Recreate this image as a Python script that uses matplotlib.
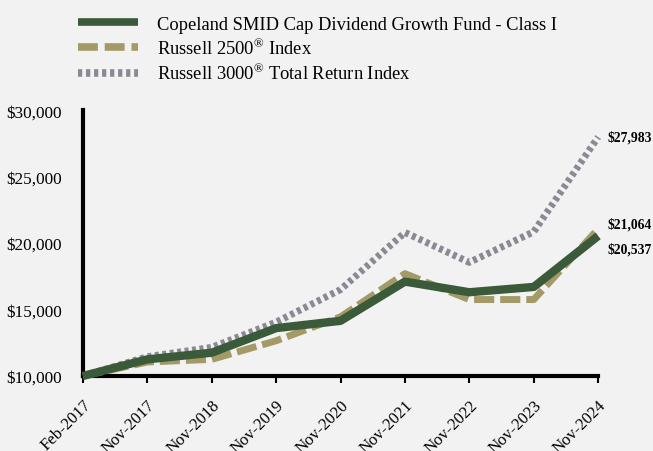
import matplotlib.pyplot as plt
from matplotlib.lines import Line2D

dates = ["Feb-2017", "Nov-2017", "Nov-2018", "Nov-2019", "Nov-2020",
         "Nov-2021", "Nov-2022", "Nov-2023", "Nov-2024"]
copeland = [10000, 11250, 11750, 13600, 14150, 17100, 16300, 16700, 20537]
r2500 = [10000, 11050, 11250, 12650, 14450, 17700, 15750, 15750, 21064]
r3000 = [10000, 11450, 12150, 14050, 16500, 20800, 18550, 20850, 27983]

names = ["Copeland SMID Cap Dividend Growth Fund - Class I",
         "Russell 2500$^{\u00ae}$ Index",
         "Russell 3000$^{\u00ae}$ Total Return Index"]

green = "#3b5a3a"
tan = "#a39a68"
grey = "#8b8a94"
bg = "#f2f2f2"

plt.rcParams['font.family'] = ['Liberation Serif', 'DejaVu Serif']
plt.rcParams['mathtext.fontset'] = 'custom'
plt.rcParams['mathtext.rm'] = 'Liberation Serif'

fig = plt.figure(figsize=(6.53, 4.52), dpi=100, facecolor=bg)
ax = fig.add_axes([0.127, 0.166, 0.789, 0.588], facecolor=bg)

x = list(range(len(dates)))
ax.plot(x, r3000, color=grey, lw=5, dashes=(0.58, 0.5), clip_on=False, zorder=2)
ax.plot(x, r2500, color=tan, lw=5, dashes=(2.9, 0.86), clip_on=False, zorder=3)
ax.plot(x, copeland, color=green, lw=6, solid_capstyle='butt', clip_on=False, zorder=4)

ax.set_xlim(0, 8)
ax.set_ylim(10000, 30000)
ax.set_xticks(x)
ax.set_xticklabels(dates, rotation=45, ha='right', rotation_mode='anchor', fontsize=12)
ax.set_yticks([10000, 15000, 20000, 25000, 30000])
ax.set_yticklabels([f"${v:,.0f}" for v in [10000, 15000, 20000, 25000, 30000]], fontsize=12.4)
ax.tick_params(axis='y', length=0, pad=15)
ax.tick_params(axis='x', length=5, width=1.5, pad=10)
for s in ['top', 'right']:
    ax.spines[s].set_visible(False)
for s in ['left', 'bottom']:
    ax.spines[s].set_linewidth(3)

for vals, dy in [(r3000, 0), (r2500, 4), (copeland, -9)]:
    ax.annotate(f"${vals[-1]:,.0f}", (8, vals[-1]), xytext=(6.5, dy),
                textcoords='offset points', fontsize=9.8, fontweight='bold',
                va='center', ha='left', annotation_clip=False)

handles = [Line2D([], [], color=green, lw=5.5, solid_capstyle='butt'),
           Line2D([], [], color=tan, lw=5.5, dashes=(2.6, 0.9)),
           Line2D([], [], color=grey, lw=5.5, dashes=(0.55, 0.5))]
fig.legend(handles, names, loc='upper left', bbox_to_anchor=(0.094, 1.0),
           frameon=False, fontsize=13.3, handlelength=3.25, handletextpad=1.0,
           labelspacing=0.28)

fig.savefig("out.png", dpi=100, facecolor=bg)
